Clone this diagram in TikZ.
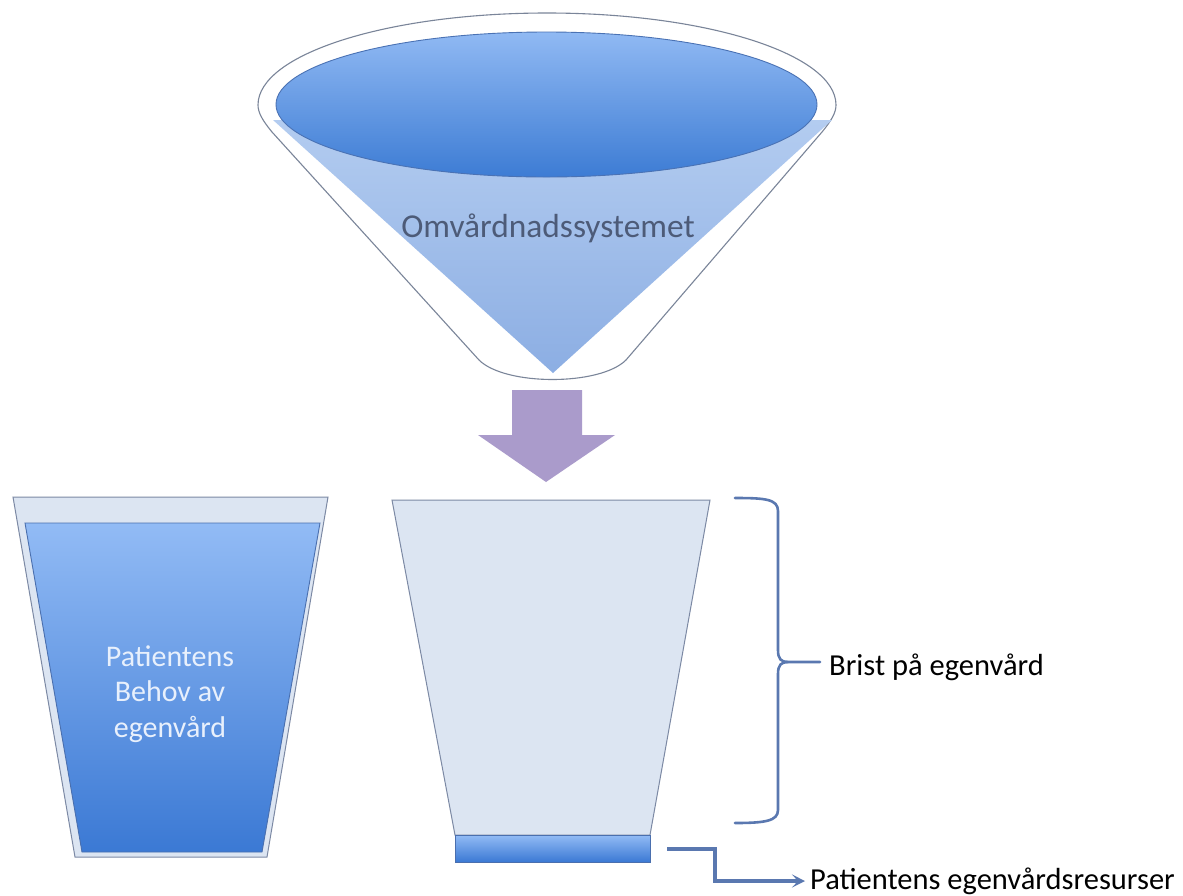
\documentclass[tikz,border=0pt]{standalone}
\usepackage{fontspec}
\setmainfont{Carlito}
\usetikzlibrary{arrows.meta}
\definecolor{edgegray}{HTML}{7A8599}
\definecolor{trtop}{HTML}{B3CCF0}
\definecolor{trbot}{HTML}{8CAEE3}
\definecolor{eltop}{HTML}{90B9F3}
\definecolor{elbot}{HTML}{3D7CD4}
\definecolor{eledge}{HTML}{4A72B4}
\definecolor{omvtext}{HTML}{4D5B78}
\definecolor{arrowpurple}{HTML}{AA9BCB}
\definecolor{cupfill}{HTML}{DCE5F2}
\definecolor{cupedge}{HTML}{7C89A4}
\definecolor{watertop}{HTML}{92BBF5}
\definecolor{waterbot}{HTML}{3B79D4}
\definecolor{wateredge}{HTML}{4A6FAE}
\definecolor{bracecol}{HTML}{5A78B0}
\definecolor{whitetext}{HTML}{E8F0FC}
\tikzset{
  funneledge/.style={draw=edgegray,line width=1.1pt,fill=white},
  cupbox/.style={draw=cupedge,line width=1pt,fill=cupfill},
  water/.style={top color=watertop,bottom color=waterbot,draw=wateredge,line width=0.9pt},
  bracestyle/.style={draw=bracecol,line width=2.6pt,line cap=round},
  labeltext/.style={font=\fontsize{30.5}{36}\selectfont,text=black,inner sep=0pt},
  elbowline/.style={draw=bracecol,line width=3.2pt}
}
\begin{document}
\begin{tikzpicture}[x=1pt,y=-1pt]
\useasboundingbox[fill=white] (0,0) rectangle (1183,895);
% funnel
\path[funneledge] (479,360) -- (272,132) .. controls (263,121) and (258,113) .. (258,105) arc[start angle=180,end angle=360,x radius=289,y radius=92] .. controls (836,113) and (831,121) .. (822,132) -- (626,360) .. controls (600,386) and (505,386) .. (479,360) -- cycle;
\shade[top color=trtop,bottom color=trbot] (273,120) -- (832,120) -- (553,373) -- cycle;
\shade[top color=eltop,bottom color=elbot,draw=eledge,line width=0.9pt] (546.5,104.5) ellipse[x radius=270.5,y radius=72.5];
\node[font=\fontsize{33.4}{40}\selectfont,text=omvtext,inner sep=0pt] (omv) at (548,228) {Omvårdnadssystemet};
% purple arrow
\fill[arrowpurple] (512,390) -- (582,390) -- (582,435) -- (615,435) -- (546,482) -- (478,435) -- (512,435) -- cycle;
% left cup
\path[cupbox] (13,497) -- (328,497) -- (267,857) -- (75,857) -- cycle;
\path[water] (25,523) -- (320,523) -- (262,852) -- (82,852) -- cycle;
\node[font=\fontsize{30}{35.5}\selectfont,text=whitetext,align=center,inner sep=0pt] (behov) at (170,694) {Patientens\\Behov av\\egenvård};
% middle cup
\path[cupbox] (392,500) -- (710,500) -- (650,835) -- (455,835) -- cycle;
\path[water] (455,835) rectangle (650,862);
% brace
\draw[bracestyle] (735,498) .. controls (765,498) and (778,499) .. (778,511) -- (778,650) .. controls (778,659) and (781,662) .. (788,662) -- (820,662);
\draw[bracestyle] (788,662) .. controls (781,662) and (778,665) .. (778,674) -- (778,810) .. controls (778,821) and (765,823) .. (735,823);
\node[labeltext,anchor=west] (brist) at (829,667) {Brist på egenvård};
% elbow arrow
\node[labeltext,anchor=west] (res) at (810,881) {Patientens egenvårdsresurser};
\coordinate (e0) at (667,849);
\draw[elbowline,-{Stealth[length=13pt,width=13pt,inset=6pt]},shorten >=5pt] (e0) -- ++(48,0) |- (res.west);
\end{tikzpicture}
\end{document}
